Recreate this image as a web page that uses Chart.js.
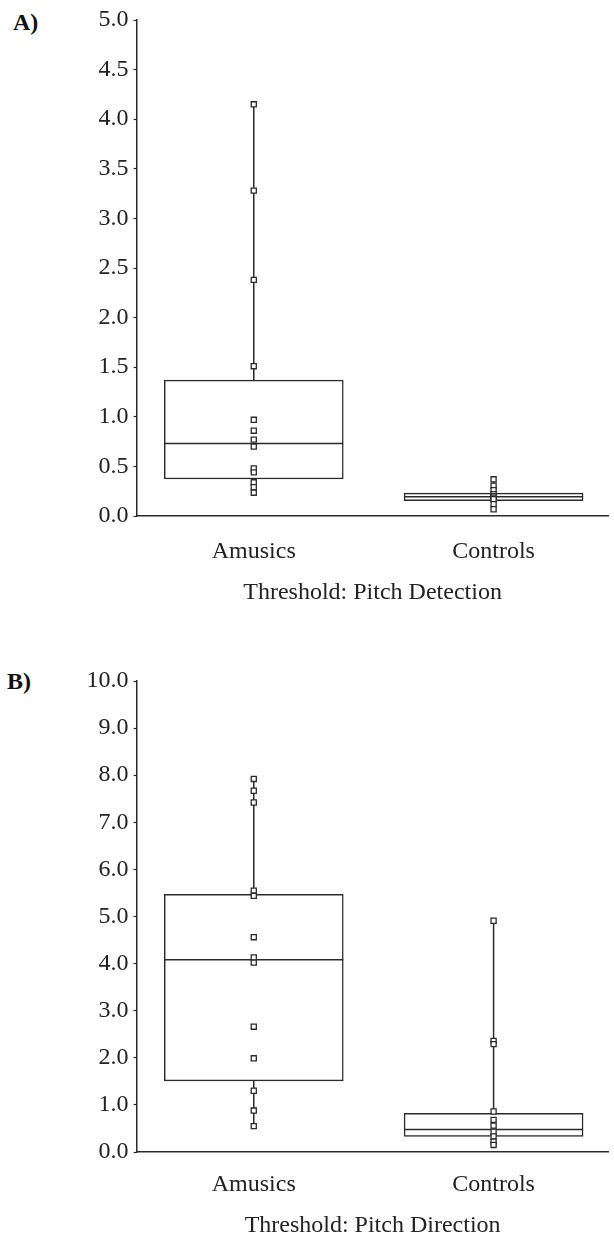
<!DOCTYPE html>
<html>
<head>
<meta charset="utf-8">
<script src="https://cdn.jsdelivr.net/npm/chart.js@4.4.1/dist/chart.umd.min.js"></script>
<style>
  html, body { margin: 0; padding: 0; background: #fff; overflow: hidden; }
  body { width: 614px; height: 1236px; position: relative; }
  canvas { position: absolute; left: 0; }
  #chartA { top: 0; }
  #chartB { top: 645px; }
  .tag { position: absolute; font: bold 24px "Liberation Serif", serif; color: #111; }
</style>
</head>
<body>
<div class="tag" style="left:13px; top:9px">A)</div>
<div class="tag" style="left:7px; top:668px">B)</div>
<canvas id="chartA" width="614" height="645"></canvas>
<canvas id="chartB" width="614" height="600"></canvas>
<script>
const categories = ['Amusics', 'Controls'];

// A) threshold, pitch detection
const detAmusics = [4.15, 3.28, 2.38, 1.51, 0.97, 0.86, 0.77, 0.70, 0.48, 0.44, 0.34, 0.29, 0.235];
const detControls = [0.37, 0.305, 0.26, 0.22, 0.20, 0.185, 0.17, 0.12, 0.068];
const detQ1 = [0.373, 0.155];
const detMedian = [0.73, 0.195];
const detQ3 = [1.37, 0.23];
const detMin = [0.235, 0.068];
const detMax = [4.15, 0.37];
const detTicks = [0, 5, 0.5];

// B) threshold, pitch direction
const dirAmusics = [7.92, 7.67, 7.42, 5.55, 5.44, 4.56, 4.13, 4.02, 2.66, 1.99, 1.30, 0.88, 0.55];
const dirControls = [4.91, 2.36, 2.29, 0.86, 0.68, 0.56, 0.43, 0.33, 0.22, 0.15];
const dirQ1 = [1.51, 0.33];
const dirMedian = [4.08, 0.48];
const dirQ3 = [5.47, 0.82];
const dirMin = [0.55, 0.15];
const dirMax = [7.92, 4.91];
const dirTicks = [0, 10, 1];

const ink = '#2a2a2a';
const textColor = '#222';
const font = { family: '"Liberation Serif", "Times New Roman", serif', size: 24 };

// median line across each box, drawn right after the boxes
const medianPlugin = {
  id: 'median',
  afterDatasetDraw(chart, args) {
    if (args.meta.type !== 'bar') return;
    const medians = chart.options.plugins.median.values;
    const ctx = chart.ctx;
    const y = chart.scales.y;
    ctx.save();
    ctx.strokeStyle = ink;
    ctx.lineWidth = 1.5;
    args.meta.data.forEach((bar, i) => {
      const py = y.getPixelForValue(medians[i]);
      ctx.beginPath();
      ctx.moveTo(bar.x - bar.width / 2, py);
      ctx.lineTo(bar.x + bar.width / 2, py);
      ctx.stroke();
    });
    ctx.restore();
  }
};

function boxChart(id, s) {
  const whiskers = [];
  categories.forEach((c, i) => {
    whiskers.push({ x: i + 1, y: s.min[i] }, { x: i + 1, y: s.max[i] }, { x: i + 1.5, y: null });
  });
  const points = [];
  s.points.forEach((arr, i) => arr.forEach(v => points.push({ x: i + 1, y: v })));

  return new Chart(document.getElementById(id), {
    type: 'bar',
    data: {
      datasets: [
        {
          type: 'line', data: whiskers, order: 3,
          borderColor: ink, borderWidth: 1.5, pointRadius: 0, spanGaps: false
        },
        {
          type: 'bar', order: 2,
          data: categories.map((c, i) => ({ x: i + 1, y: [s.q1[i], s.q3[i]] })),
          backgroundColor: '#fff', borderColor: ink, borderWidth: 1.5,
          borderSkipped: false, barThickness: 179
        },
        {
          type: 'scatter', data: points, order: 1,
          pointStyle: 'rect', pointRadius: 3.6,
          pointBackgroundColor: '#fff', pointBorderColor: ink, pointBorderWidth: 1.3
        }
      ]
    },
    options: {
      responsive: false,
      animation: false,
      layout: { padding: { top: s.top, left: 0, right: 0, bottom: 0 } },
      plugins: {
        legend: { display: false },
        tooltip: { enabled: false },
        median: { values: s.median }
      },
      scales: {
        x: {
          type: 'linear', min: 0.511, max: 2.48, offset: false,
          afterBuildTicks: sc => { sc.ticks = categories.map((c, i) => ({ value: i + 1 })); },
          ticks: { callback: v => categories[v - 1], padding: s.labelPad, font, color: textColor, maxRotation: 0 },
          grid: { display: false, offset: false },
          border: { display: true, color: ink, width: 1.5 },
          title: { display: true, text: s.title, font, color: textColor, padding: { top: 0, bottom: s.titlePad } },
          afterFit: sc => {
            sc.height = s.xHeight;
            sc.paddingLeft = 0;
            sc.paddingRight = 0;
          }
        },
        y: {
          min: s.ticks[0], max: s.ticks[1],
          ticks: { stepSize: s.ticks[2], callback: v => v.toFixed(1), padding: 5, font, color: textColor },
          grid: { drawOnChartArea: false, tickLength: 3, color: ink, tickWidth: 1.2 },
          border: { display: true, color: ink, width: 1.5 },
          afterFit: sc => { sc.width = 136.5; }
        }
      }
    },
    plugins: [medianPlugin]
  });
}

boxChart('chartA', {
  points: [detAmusics, detControls],
  q1: detQ1, median: detMedian, q3: detQ3, min: detMin, max: detMax,
  ticks: detTicks, title: 'Threshold: Pitch Detection',
  top: 20, xHeight: 129, labelPad: 13, titlePad: 37.5
});

boxChart('chartB', {
  points: [dirAmusics, dirControls],
  q1: dirQ1, median: dirMedian, q3: dirQ3, min: dirMin, max: dirMax,
  ticks: dirTicks, title: 'Threshold: Pitch Direction',
  top: 36, xHeight: 93, labelPad: 10, titlePad: 5
});
</script>
</body>
</html>
